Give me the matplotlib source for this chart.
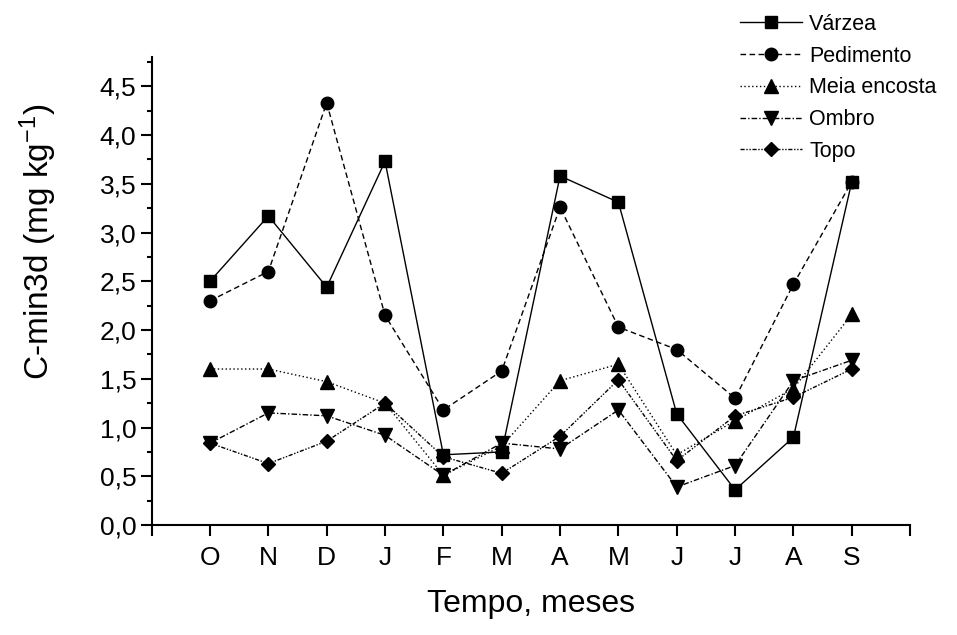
import matplotlib
matplotlib.use("Agg")
import matplotlib.pyplot as plt
from matplotlib.ticker import FixedLocator, FuncFormatter

plt.rcParams["font.family"] = ["Liberation Sans", "DejaVu Sans"]
plt.rcParams["mathtext.fontset"] = "custom"
plt.rcParams["mathtext.rm"] = "Liberation Sans"
plt.rcParams["mathtext.it"] = "Liberation Sans:italic"
plt.rcParams["mathtext.sf"] = "Liberation Sans"

meses = ["O", "N", "D", "J", "F", "M", "A", "M", "J", "J", "A", "S"]

varzea = [2.50, 3.17, 2.44, 3.73, 0.72, 0.75, 3.58, 3.31, 1.14, 0.36, 0.90, 3.52]
pedimento = [2.30, 2.60, 4.33, 2.15, 1.18, 1.58, 3.26, 2.03, 1.80, 1.30, 2.47, 3.52]
meia_encosta = [1.60, 1.60, 1.47, 1.25, 0.51, 0.81, 1.48, 1.65, 0.72, 1.07, 1.40, 2.16]
ombro = [0.84, 1.15, 1.12, 0.92, 0.51, 0.84, 0.78, 1.18, 0.39, 0.61, 1.48, 1.69]
topo = [0.84, 0.63, 0.86, 1.25, 0.70, 0.53, 0.91, 1.49, 0.66, 1.12, 1.31, 1.60]

x = list(range(len(meses)))

fig = plt.figure(figsize=(9.57, 6.35), dpi=100)
ax = fig.add_axes([0.1585, 0.1732, 0.7925, 0.7370])

series = [
    (varzea, "Várzea", "s", 8.5, "-"),
    (pedimento, "Pedimento", "o", 9, (0, (4, 2.5))),
    (meia_encosta, "Meia encosta", "^", 10, (0, (1, 1.8))),
    (ombro, "Ombro", "v", 10, (0, (4, 1.5, 1, 1.5))),
    (topo, "Topo", "D", 7.5, (0, (3, 1.2, 1, 1.2, 1, 1.2))),
]
for ys, label, mk, ms, ls in series:
    ax.plot(x, ys, color="black", linestyle=ls, linewidth=1.0,
            marker=mk, markersize=ms, markerfacecolor="black",
            markeredgecolor="black", label=label)

ax.set_xlim(-1, 12)
ax.set_ylim(0, 4.8)

ax.xaxis.set_major_locator(FixedLocator(list(range(-1, 13))))
ax.set_xticklabels([""] + meses + [""])
ax.yaxis.set_major_locator(FixedLocator([i * 0.5 for i in range(10)]))
ax.yaxis.set_minor_locator(FixedLocator([0.25 + i * 0.5 for i in range(10)]))
ax.yaxis.set_major_formatter(FuncFormatter(lambda v, p: f"{v:.1f}".replace(".", ",")))

for s in ("top", "right"):
    ax.spines[s].set_visible(False)
for s in ("left", "bottom"):
    ax.spines[s].set_linewidth(1.5)

ax.tick_params(axis="both", which="major", direction="out", length=8, width=1.5,
               labelsize=19)
ax.tick_params(axis="y", which="minor", direction="out", length=3.5, width=1.5)
ax.tick_params(axis="x", pad=7)
ax.tick_params(axis="y", pad=3)

ax.set_xlabel("Tempo, meses", fontsize=23, labelpad=14)
ax.set_ylabel("C-min3d (mg kg$\\mathregular{^{-1}}$)", fontsize=24)
ax.yaxis.set_label_coords(-0.122, 0.605)

fig.legend(loc="upper left", bbox_to_anchor=(0.773, 0.978), frameon=False,
           fontsize=15.5, handlelength=2.9, handletextpad=0.33,
           labelspacing=0.5, borderpad=0, borderaxespad=0)

fig.savefig("out.png", dpi=100)
